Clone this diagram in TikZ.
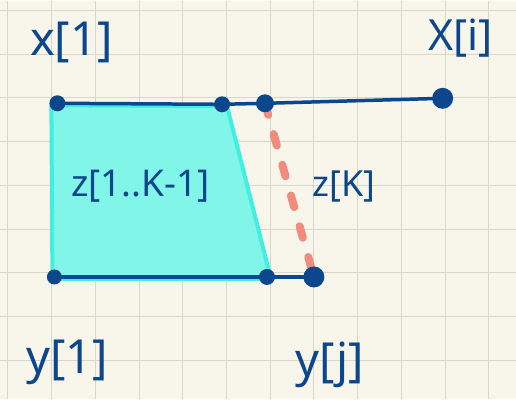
\documentclass[tikz,border=0pt]{standalone}
\usepackage{fontspec}
\setmainfont{Noto Sans}
\usepackage{tikz}
\usetikzlibrary{positioning}
\definecolor{paperFill}{HTML}{f8f6ea}
\definecolor{gridStroke}{HTML}{d9d7c9}
\definecolor{inkBlue}{HTML}{0c468c}
\definecolor{zoneFill}{HTML}{80f5e8}
\definecolor{zoneStroke}{HTML}{3ff0e2}
\definecolor{matchRed}{HTML}{f38a7e}

\begin{document}
\begin{tikzpicture}[
  x=1pt, y=-1pt,
  dot/.style={circle, fill=inkBlue, inner sep=0pt},
  seq/.style={draw=inkBlue, line width=3.5pt, line cap=round},
  zone/.style={fill=zoneFill, draw=zoneStroke, line width=4pt, line join=round},
  cand/.style={draw=matchRed, line width=8pt, line cap=round, dash pattern=on 12pt off 20pt},
  lbl/.style={text=inkBlue, inner sep=0pt}
]

% ============ PAPER ============
\fill[paperFill] (0,0) rectangle (516,399);
\foreach \gx in {7.5,51.3,...,500} \draw[gridStroke, line width=1pt] (\gx,0) -- (\gx,399);
\foreach \gy in {10,53.8,...,399} \draw[gridStroke, line width=1pt] (0,\gy) -- (516,\gy);
\useasboundingbox (0,0) rectangle (516,399);

% ============ DOTS (positions) ============
\coordinate (x1) at (57,103);
\coordinate (xa) at (222,104);
\coordinate (xk) at (265,103);
\coordinate (xi) at (443,98);
\coordinate (y1) at (54,277);
\coordinate (yb) at (267,277);
\coordinate (yj) at (314,277);

% ============ REGION + CANDIDATE ============
\path[zone] ([xshift=-6pt,yshift=-2pt]x1) -- ([xshift=5pt,yshift=-2pt]xa) -- ([xshift=4pt,yshift=-2pt]yb) -- ([xshift=-2pt,yshift=-2pt]y1) -- cycle;
\draw[cand] (xk) -- (yj);

% ============ SEQUENCES ============
\draw[seq] (x1) -- (xa) -- (xk) -- (xi);
\draw[seq] (y1) -- (yb) -- (yj);
\node[dot, minimum size=16pt] at (x1) {};
\node[dot, minimum size=16pt] at (xa) {};
\node[dot, minimum size=18pt] at (xk) {};
\node[dot, minimum size=21pt] at (xi) {};
\node[dot, minimum size=15pt] at (y1) {};
\node[dot, minimum size=16pt] at (yb) {};
\node[dot, minimum size=21pt] at (yj) {};

% ============ LABELS ============
\node[lbl, font=\fontsize{47}{50}\selectfont] (lx1) at (71,42) {x[1]};
\node[lbl, font=\fontsize{43}{46}\selectfont] (lxi) at (461,38) {X[i]};
\node[lbl, font=\fontsize{37}{40}\selectfont] (lz) at (140,186) {z[1..K-1]};
\node[lbl, font=\fontsize{36}{38}\selectfont] (lzk) at (344,186) {z[K]};
\node[lbl, font=\fontsize{47}{50}\selectfont] (ly1) at (67,363) {y[1]};
\node[lbl, font=\fontsize{47}{50}\selectfont] (lyj) at (330,365) {y[j]};

\end{tikzpicture}
\end{document}
